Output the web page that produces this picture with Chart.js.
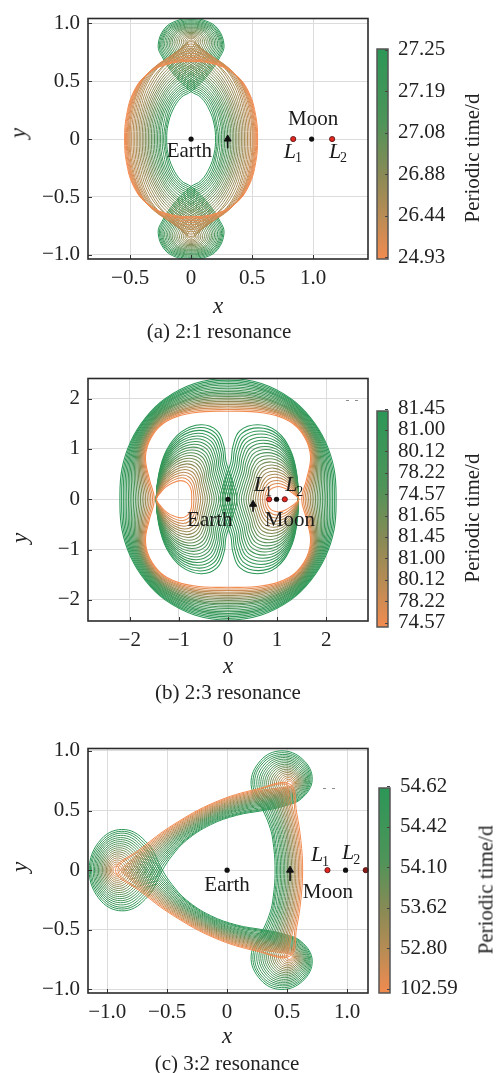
<!DOCTYPE html>
<html lang="en">
<head>
<meta charset="utf-8">
<title>Resonant orbit families in the Earth–Moon system</title>
<script src="https://cdn.jsdelivr.net/npm/chart.js@4.4.1/dist/chart.umd.min.js"></script>
<style>
  html, body { margin: 0; padding: 0; background: #fff; }
  body { position: relative; width: 496px; height: 1073px; overflow: hidden;
         font-family: "Liberation Serif", "Times New Roman", serif; color: #222; }
  canvas { position: absolute; left: 0; }
  .lbl { position: absolute; transform: translate(-50%, -50%); white-space: nowrap; font-size: 21px; line-height: 1; }
  .ax { font-style: italic; font-size: 23px; }
  .rot { transform: translate(-50%, -50%) rotate(-90deg); }
</style>
</head>
<body>
<canvas id="chartA" width="496" height="300" style="top:0px;width:496px;height:300px"></canvas>
<canvas id="chartB" width="496" height="301" style="top:360px;width:496px;height:301px"></canvas>
<canvas id="chartC" width="496" height="303" style="top:730px;width:496px;height:303px"></canvas>

<div class="lbl ax" style="left:218px;top:305px">x</div>
<div class="lbl ax rot" style="left:18px;top:133px">y</div>
<div class="lbl" style="left:219px;top:331px">(a) 2:1 resonance</div>
<div class="lbl rot" style="left:472px;top:158px">Periodic time/d</div>

<div class="lbl ax" style="left:228px;top:665px">x</div>
<div class="lbl ax rot" style="left:19px;top:538px">y</div>
<div class="lbl" style="left:228px;top:692px">(b) 2:3 resonance</div>
<div class="lbl rot" style="left:472px;top:518px">Periodic time/d</div>

<div class="lbl ax" style="left:227px;top:1035px">x</div>
<div class="lbl ax rot" style="left:19px;top:867px">y</div>
<div class="lbl" style="left:227px;top:1063px">(c) 3:2 resonance</div>
<div class="lbl rot" style="left:486px;top:890px">Periodic time/d</div>

<script>
// ---------- axis ticks ----------
const xTicksA = [-0.5, 0, 0.5, 1.0];
const yTicksA = [-1.0, -0.5, 0, 0.5, 1.0];
const xTicksB = [-2, -1, 0, 1, 2];
const yTicksB = [-2, -1, 0, 1, 2];
const xTicksC = [-1.0, -0.5, 0, 0.5, 1.0];
const yTicksC = [-1.0, -0.5, 0, 0.5, 1.0];

// ---------- colour-bar tick labels (periodic time, days) ----------
const periodTicksA = ['27.25', '27.19', '27.08', '26.88', '26.44', '24.93'];
const periodTicksB = ['81.45', '81.00', '80.12', '78.22', '74.57', '81.65', '81.45', '81.00', '80.12', '78.22', '74.57'];
const periodTicksC = ['54.62', '54.42', '54.10', '53.62', '52.80', '102.59'];

// ---------- primaries and libration points (rotating frame, x on the Earth–Moon line) ----------
const primariesX = [0, 0.988];     // Earth, Moon
const librationX = [0.837, 1.156]; // L1, L2

// direction arrows: [x tail, y tail, x head, y head]
const arrowA = [0.30, -0.08, 0.30, 0.0];
const arrowB = [0.51, -0.25, 0.51, -0.10];
const arrowC = [0.525, -0.09, 0.525, 0.0];

// ---------- (a) 2:1 family: first-quadrant arc of each orbit, [x0,y0, x1,y1, ...],
// from the x-axis crossing up to the top; long-period (looped) orbits first
const orbitsA = [
  [0.20,0, 0.19,0.12, 0.15,0.25, 0.08,0.36, 0,0.41, -0.135,0.55, -0.238,0.71, -0.27,0.81, -0.22,0.95, -0.12,1.02, 0,1.04],
  [0.2125,0, 0.20,0.125, 0.16,0.265, 0.085,0.375, 0,0.4275, -0.13,0.5625, -0.229,0.715, -0.26,0.8125, -0.2125,0.945, -0.1165,1.01, 0,1.03],
  [0.225,0, 0.21,0.13, 0.17,0.28, 0.09,0.39, 0,0.445, -0.125,0.575, -0.22,0.72, -0.25,0.815, -0.205,0.94, -0.113,1.0, 0,1.02],
  [0.2375,0, 0.225,0.135, 0.18,0.29, 0.095,0.405, 0,0.4625, -0.12,0.5875, -0.21,0.7275, -0.24,0.8175, -0.1975,0.935, -0.1065,0.9925, 0,1.01],
  [0.25,0, 0.24,0.14, 0.19,0.30, 0.10,0.42, 0,0.48, -0.115,0.60, -0.20,0.735, -0.23,0.82, -0.19,0.93, -0.10,0.985, 0,1.00],
  [0.2625,0, 0.25,0.15, 0.20,0.31, 0.105,0.435, 0,0.50, -0.1075,0.615, -0.19,0.7425, -0.2175,0.8225, -0.18,0.925, -0.095,0.9775, 0,0.9925],
  [0.275,0, 0.26,0.16, 0.21,0.32, 0.11,0.45, 0,0.52, -0.10,0.63, -0.18,0.75, -0.205,0.825, -0.17,0.92, -0.09,0.97, 0,0.985],
  [0.2875,0, 0.2725,0.165, 0.2175,0.335, 0.115,0.47, 0,0.54, -0.095,0.6425, -0.169,0.755, -0.1925,0.8275, -0.159,0.915, -0.085,0.9625, 0,0.975],
  [0.30,0, 0.285,0.17, 0.225,0.35, 0.12,0.49, 0,0.56, -0.09,0.655, -0.158,0.76, -0.18,0.83, -0.148,0.91, -0.08,0.955, 0,0.965],
  [0.3125,0, 0.2975,0.175, 0.235,0.36, 0.125,0.505, 0,0.58, -0.085,0.6675, -0.1465,0.7675, -0.1675,0.8325, -0.1365,0.9075, -0.075,0.9475, 0,0.9575],
  [0.325,0, 0.31,0.18, 0.245,0.37, 0.13,0.52, 0,0.60, -0.08,0.68, -0.135,0.775, -0.155,0.835, -0.125,0.905, -0.07,0.94, 0,0.95],
  [0.3375,0, 0.3215,0.185, 0.254,0.385, 0.135,0.5375, 0,0.62, -0.0715,0.695, -0.1225,0.7825, -0.14,0.8375, -0.1125,0.90, -0.063,0.931, 0,0.94],
  [0.35,0, 0.333,0.19, 0.263,0.40, 0.14,0.555, 0,0.64, -0.063,0.71, -0.11,0.79, -0.125,0.84, -0.10,0.895, -0.056,0.922, 0,0.93],
  [0.3625,0, 0.3445,0.1975, 0.2715,0.4125, 0.145,0.575, 0,0.6625, -0.0555,0.725, -0.097,0.7975, -0.11,0.8425, -0.089,0.8895, -0.0495,0.9135, 0,0.92],
  [0.375,0, 0.356,0.205, 0.28,0.425, 0.15,0.595, 0,0.685, -0.048,0.74, -0.084,0.805, -0.095,0.845, -0.078,0.884, -0.043,0.905, 0,0.91],
  [0.3875,0, 0.368,0.2125, 0.29,0.4375, 0.155,0.615, 0,0.7075, -0.0405,0.755, -0.0705,0.8105, -0.08,0.845, -0.0655,0.878, -0.036,0.8955, 0,0.90],
  [0.40,0, 0.38,0.22, 0.30,0.45, 0.16,0.635, 0,0.73, -0.033,0.77, -0.057,0.816, -0.065,0.845, -0.053,0.872, -0.029,0.886, 0,0.89],
  [0.4125,0, 0.392,0.227, 0.31,0.467, 0.165,0.6575, 0,0.755, -0.0255,0.7865, -0.044,0.8225, -0.05,0.845, -0.041,0.866, -0.0225,0.877, 0,0.88],
  [0.425,0, 0.404,0.234, 0.32,0.484, 0.17,0.68, 0,0.78, -0.018,0.803, -0.031,0.829, -0.035,0.845, -0.029,0.86, -0.016,0.868, 0,0.87],
  [0.4375,0, 0.417,0.237, 0.34,0.482, 0.20,0.665, 0.07,0.79, 0,0.855],
  [0.45,0, 0.43,0.24, 0.36,0.48, 0.24,0.65, 0.11,0.76, 0,0.84],
  [0.4625,0, 0.4425,0.24, 0.375,0.475, 0.255,0.64, 0.12,0.75, 0,0.82],
  [0.475,0, 0.455,0.24, 0.39,0.47, 0.27,0.63, 0.13,0.74, 0,0.80],
  [0.4875,0, 0.4675,0.235, 0.405,0.46, 0.29,0.62, 0.145,0.725, 0,0.78],
  [0.50,0, 0.48,0.23, 0.42,0.45, 0.31,0.61, 0.16,0.71, 0,0.76],
  [0.5075,0, 0.49,0.225, 0.43,0.44, 0.325,0.595, 0.17,0.695, 0,0.74],
  [0.515,0, 0.50,0.22, 0.44,0.43, 0.34,0.58, 0.18,0.68, 0,0.72],
  [0.5225,0, 0.5075,0.215, 0.45,0.42, 0.35,0.57, 0.19,0.6675, 0,0.705],
  [0.53,0, 0.515,0.21, 0.46,0.41, 0.36,0.56, 0.20,0.655, 0,0.69],
  [0.5375,0, 0.5225,0.205, 0.4675,0.405, 0.365,0.555, 0.205,0.6475, 0,0.68],
  [0.545,0, 0.53,0.20, 0.475,0.40, 0.37,0.55, 0.21,0.64, 0,0.67]
];

// ---------- (b) 2:3 family: outer ring (first quadrant) ----------
const ringsB = [
  [2.20,0, 2.16,0.60, 1.98,1.15, 1.68,1.62, 1.28,2.00, 0.68,2.30, 0,2.40],
  [2.165,0, 2.132,0.59, 1.965,1.135, 1.6735,1.6015, 1.2785,1.9775, 0.681,2.271, 0,2.3675],
  [2.13,0, 2.104,0.58, 1.95,1.12, 1.667,1.583, 1.277,1.955, 0.682,2.242, 0,2.335],
  [2.095,0, 2.076,0.57, 1.935,1.105, 1.6605,1.5645, 1.2755,1.9325, 0.683,2.213, 0,2.3025],
  [2.06,0, 2.048,0.56, 1.92,1.09, 1.654,1.546, 1.274,1.91, 0.684,2.184, 0,2.27],
  [2.025,0, 2.02,0.55, 1.905,1.075, 1.6475,1.5275, 1.2725,1.8875, 0.685,2.155, 0,2.2375],
  [1.99,0, 1.992,0.54, 1.89,1.06, 1.641,1.509, 1.271,1.865, 0.686,2.126, 0,2.205],
  [1.955,0, 1.964,0.53, 1.875,1.045, 1.6345,1.4905, 1.2695,1.8425, 0.687,2.097, 0,2.1725],
  [1.92,0, 1.936,0.52, 1.86,1.03, 1.628,1.472, 1.268,1.82, 0.688,2.068, 0,2.14],
  [1.885,0, 1.908,0.51, 1.845,1.015, 1.6215,1.4535, 1.2665,1.7975, 0.689,2.039, 0,2.1075],
  [1.85,0, 1.88,0.50, 1.83,1.00, 1.615,1.435, 1.265,1.775, 0.69,2.01, 0,2.075],
  [1.815,0, 1.852,0.49, 1.815,0.985, 1.6085,1.4165, 1.2635,1.7525, 0.691,1.981, 0,2.0425],
  [1.78,0, 1.824,0.48, 1.80,0.97, 1.602,1.398, 1.262,1.73, 0.692,1.952, 0,2.01],
  [1.745,0, 1.796,0.47, 1.785,0.955, 1.5955,1.3795, 1.2605,1.7075, 0.693,1.923, 0,1.9775],
  [1.71,0, 1.768,0.46, 1.77,0.94, 1.589,1.361, 1.259,1.685, 0.694,1.894, 0,1.945],
  [1.675,0, 1.74,0.45, 1.755,0.925, 1.5825,1.3425, 1.2575,1.6625, 0.695,1.865, 0,1.9125],
  [1.64,0, 1.712,0.44, 1.74,0.91, 1.576,1.324, 1.256,1.64, 0.696,1.836, 0,1.88],
  [1.605,0, 1.684,0.43, 1.725,0.895, 1.5695,1.3055, 1.2545,1.6175, 0.697,1.807, 0,1.8475],
  [1.57,0, 1.656,0.42, 1.71,0.88, 1.563,1.287, 1.253,1.595, 0.698,1.778, 0,1.815],
  [1.535,0, 1.628,0.41, 1.695,0.865, 1.5565,1.2685, 1.2515,1.5725, 0.699,1.749, 0,1.7825],
  [1.50,0, 1.60,0.40, 1.68,0.85, 1.55,1.25, 1.25,1.55, 0.70,1.72, 0,1.75]
];
// Earth-side loops (upper half, from the outer crossing over the top to the inner edge)
const loopsEarthB = [
  [-1.46,0, -1.41,0.50, -1.25,0.98, -0.95,1.34, -0.55,1.48, -0.22,1.36, -0.08,1.05, -0.04,0.75, 0.08,0.38, 0.18,0],
  [-1.46,0, -1.4085,0.481, -1.251,0.943, -0.9585,1.2895, -0.5705,1.4245, -0.251,1.3085, -0.1145,1.0095, -0.075,0.7205, 0.039,0.365, 0.134,0],
  [-1.46,0, -1.407,0.462, -1.252,0.906, -0.967,1.239, -0.591,1.369, -0.282,1.257, -0.149,0.969, -0.11,0.691, -0.002,0.35, 0.088,0],
  [-1.46,0, -1.4055,0.443, -1.253,0.869, -0.9755,1.1885, -0.6115,1.3135, -0.313,1.2055, -0.1835,0.9285, -0.1455,0.6615, -0.043,0.335, 0.042,0],
  [-1.46,0, -1.404,0.424, -1.254,0.832, -0.984,1.138, -0.632,1.258, -0.344,1.154, -0.218,0.888, -0.181,0.632, -0.084,0.32, -0.004,0],
  [-1.46,0, -1.4025,0.405, -1.255,0.795, -0.9925,1.0875, -0.6525,1.2025, -0.375,1.1025, -0.2525,0.8475, -0.2165,0.6025, -0.125,0.305, -0.05,0],
  [-1.46,0, -1.401,0.386, -1.256,0.758, -1.001,1.037, -0.673,1.147, -0.406,1.051, -0.287,0.807, -0.252,0.573, -0.166,0.29, -0.096,0],
  [-1.46,0, -1.3995,0.367, -1.257,0.721, -1.0095,0.9865, -0.6935,1.0915, -0.437,0.9995, -0.3215,0.7665, -0.287,0.5435, -0.207,0.275, -0.142,0],
  [-1.46,0, -1.398,0.348, -1.258,0.684, -1.018,0.936, -0.714,1.036, -0.468,0.948, -0.356,0.726, -0.322,0.514, -0.248,0.26, -0.188,0],
  [-1.46,0, -1.3965,0.329, -1.259,0.647, -1.0265,0.8855, -0.7345,0.9805, -0.499,0.8965, -0.3905,0.6855, -0.3575,0.4845, -0.289,0.245, -0.234,0],
  [-1.46,0, -1.395,0.31, -1.26,0.61, -1.035,0.835, -0.755,0.925, -0.53,0.845, -0.425,0.645, -0.393,0.455, -0.33,0.23, -0.28,0],
  [-1.46,0, -1.3935,0.291, -1.261,0.573, -1.0435,0.7845, -0.7755,0.8695, -0.561,0.7935, -0.4595,0.6045, -0.428,0.4255, -0.371,0.215, -0.326,0],
  [-1.46,0, -1.392,0.272, -1.262,0.536, -1.052,0.734, -0.796,0.814, -0.592,0.742, -0.494,0.564, -0.463,0.396, -0.412,0.20, -0.372,0],
  [-1.46,0, -1.3905,0.253, -1.263,0.499, -1.0605,0.6835, -0.8165,0.7585, -0.623,0.6905, -0.5285,0.5235, -0.4985,0.3665, -0.453,0.185, -0.418,0],
  [-1.46,0, -1.389,0.234, -1.264,0.462, -1.069,0.633, -0.837,0.703, -0.654,0.639, -0.563,0.483, -0.534,0.337, -0.494,0.17, -0.464,0],
  [-1.46,0, -1.3875,0.215, -1.265,0.425, -1.0775,0.5825, -0.8575,0.6475, -0.685,0.5875, -0.5975,0.4425, -0.569,0.3075, -0.535,0.155, -0.51,0],
  [-1.46,0, -1.386,0.196, -1.266,0.388, -1.086,0.532, -0.878,0.592, -0.716,0.536, -0.632,0.402, -0.604,0.278, -0.576,0.14, -0.556,0],
  [-1.46,0, -1.3845,0.177, -1.267,0.351, -1.0945,0.4815, -0.8985,0.5365, -0.747,0.4845, -0.6665,0.3615, -0.6395,0.2485, -0.617,0.125, -0.602,0],
  [-1.46,0, -1.383,0.158, -1.268,0.314, -1.103,0.431, -0.919,0.481, -0.778,0.433, -0.701,0.321, -0.675,0.219, -0.658,0.11, -0.648,0],
  [-1.46,0, -1.3815,0.139, -1.269,0.277, -1.1115,0.3805, -0.9395,0.4255, -0.809,0.3815, -0.7355,0.2805, -0.71,0.1895, -0.699,0.095, -0.694,0],
  [-1.46,0, -1.38,0.12, -1.27,0.24, -1.12,0.33, -0.96,0.37, -0.84,0.33, -0.77,0.24, -0.745,0.16, -0.74,0.08, -0.74,0]
];
// Moon-side loops (upper half)
const loopsMoonB = [
  [-0.16,0, -0.06,0.38, 0.06,0.75, 0.10,1.05, 0.24,1.36, 0.60,1.48, 0.98,1.36, 1.27,0.98, 1.40,0.50, 1.43,0],
  [-0.112,0, -0.017,0.3645, 0.098,0.7195, 0.1385,1.0075, 0.2755,1.304, 0.623,1.4185, 0.99,1.3025, 1.271,0.938, 1.399,0.4785, 1.4305,0],
  [-0.064,0, 0.026,0.349, 0.136,0.689, 0.177,0.965, 0.311,1.248, 0.646,1.357, 1.00,1.245, 1.272,0.896, 1.398,0.457, 1.431,0],
  [-0.016,0, 0.069,0.3335, 0.174,0.6585, 0.2155,0.9225, 0.3465,1.192, 0.669,1.2955, 1.01,1.1875, 1.273,0.854, 1.397,0.4355, 1.4315,0],
  [0.032,0, 0.112,0.318, 0.212,0.628, 0.254,0.88, 0.382,1.136, 0.692,1.234, 1.02,1.13, 1.274,0.812, 1.396,0.414, 1.432,0],
  [0.08,0, 0.155,0.3025, 0.25,0.5975, 0.2925,0.8375, 0.4175,1.08, 0.715,1.1725, 1.03,1.0725, 1.275,0.77, 1.395,0.3925, 1.4325,0],
  [0.128,0, 0.198,0.287, 0.288,0.567, 0.331,0.795, 0.453,1.024, 0.738,1.111, 1.04,1.015, 1.276,0.728, 1.394,0.371, 1.433,0],
  [0.176,0, 0.241,0.2715, 0.326,0.5365, 0.3695,0.7525, 0.4885,0.968, 0.761,1.0495, 1.05,0.9575, 1.277,0.686, 1.393,0.3495, 1.4335,0],
  [0.224,0, 0.284,0.256, 0.364,0.506, 0.408,0.71, 0.524,0.912, 0.784,0.988, 1.06,0.90, 1.278,0.644, 1.392,0.328, 1.434,0],
  [0.272,0, 0.327,0.2405, 0.402,0.4755, 0.4465,0.6675, 0.5595,0.856, 0.807,0.9265, 1.07,0.8425, 1.279,0.602, 1.391,0.3065, 1.4345,0],
  [0.32,0, 0.37,0.225, 0.44,0.445, 0.485,0.625, 0.595,0.80, 0.83,0.865, 1.08,0.785, 1.28,0.56, 1.39,0.285, 1.435,0],
  [0.368,0, 0.413,0.2095, 0.478,0.4145, 0.5235,0.5825, 0.6305,0.744, 0.853,0.8035, 1.09,0.7275, 1.281,0.518, 1.389,0.2635, 1.4355,0],
  [0.416,0, 0.456,0.194, 0.516,0.384, 0.562,0.54, 0.666,0.688, 0.876,0.742, 1.10,0.67, 1.282,0.476, 1.388,0.242, 1.436,0],
  [0.464,0, 0.499,0.1785, 0.554,0.3535, 0.6005,0.4975, 0.7015,0.632, 0.899,0.6805, 1.11,0.6125, 1.283,0.434, 1.387,0.2205, 1.4365,0],
  [0.512,0, 0.542,0.163, 0.592,0.323, 0.639,0.455, 0.737,0.576, 0.922,0.619, 1.12,0.555, 1.284,0.392, 1.386,0.199, 1.437,0],
  [0.56,0, 0.585,0.1475, 0.63,0.2925, 0.6775,0.4125, 0.7725,0.52, 0.945,0.5575, 1.13,0.4975, 1.285,0.35, 1.385,0.1775, 1.4375,0],
  [0.608,0, 0.628,0.132, 0.668,0.262, 0.716,0.37, 0.808,0.464, 0.968,0.496, 1.14,0.44, 1.286,0.308, 1.384,0.156, 1.438,0],
  [0.656,0, 0.671,0.1165, 0.706,0.2315, 0.7545,0.3275, 0.8435,0.408, 0.991,0.4345, 1.15,0.3825, 1.287,0.266, 1.383,0.1345, 1.4385,0],
  [0.704,0, 0.714,0.101, 0.744,0.201, 0.793,0.285, 0.879,0.352, 1.014,0.373, 1.16,0.325, 1.288,0.224, 1.382,0.113, 1.439,0],
  [0.752,0, 0.757,0.0855, 0.782,0.1705, 0.8315,0.2425, 0.9145,0.296, 1.037,0.3115, 1.17,0.2675, 1.289,0.182, 1.381,0.0915, 1.4395,0],
  [0.80,0, 0.80,0.07, 0.82,0.14, 0.87,0.20, 0.95,0.24, 1.06,0.25, 1.18,0.21, 1.29,0.14, 1.38,0.07, 1.44,0]
];

// ---------- (c) 3:2 family: half orbit from the right x-axis crossing to the far-left vertex ----------
const orbitsC = [
  [0.40,0, 0.38,0.26, 0.35,0.38, 0.30,0.50, 0.20,0.72, 0.28,0.92, 0.45,1.00, 0.63,0.93, 0.71,0.76, 0.62,0.60, 0.45,0.53, 0.30,0.50, 0.08,0.46, -0.14,0.38, -0.34,0.25, -0.46,0.12, -0.54,0, -0.66,-0.22, -0.85,-0.34, -1.05,-0.26, -1.15,0],
  [0.4115,0, 0.39,0.26, 0.3615,0.385, 0.31,0.51, 0.215,0.72, 0.29,0.91, 0.455,0.985, 0.625,0.92, 0.70,0.76, 0.615,0.605, 0.455,0.54, 0.31,0.51, 0.09,0.47, -0.138,0.39, -0.345,0.255, -0.473,0.123, -0.56,0, -0.675,-0.21, -0.855,-0.325, -1.045,-0.245, -1.14,0],
  [0.423,0, 0.40,0.26, 0.373,0.39, 0.32,0.52, 0.23,0.72, 0.30,0.90, 0.46,0.97, 0.62,0.91, 0.69,0.76, 0.61,0.61, 0.46,0.55, 0.32,0.52, 0.10,0.48, -0.136,0.40, -0.35,0.26, -0.486,0.126, -0.58,0, -0.69,-0.20, -0.86,-0.31, -1.04,-0.23, -1.13,0],
  [0.4345,0, 0.4135,0.26, 0.3845,0.395, 0.3325,0.532, 0.2475,0.72, 0.3145,0.89, 0.4625,0.957, 0.6145,0.899, 0.6815,0.756, 0.6055,0.617, 0.4625,0.559, 0.3325,0.532, 0.107,0.492, -0.134,0.409, -0.356,0.268, -0.499,0.129, -0.598,0, -0.702,-0.188, -0.863,-0.291, -1.033,-0.219, -1.117,0],
  [0.446,0, 0.427,0.26, 0.396,0.40, 0.345,0.544, 0.265,0.72, 0.329,0.88, 0.465,0.944, 0.609,0.888, 0.673,0.752, 0.601,0.624, 0.465,0.568, 0.345,0.544, 0.114,0.504, -0.132,0.418, -0.362,0.276, -0.512,0.132, -0.618,0, -0.714,-0.176, -0.866,-0.272, -1.026,-0.208, -1.106,0],
  [0.4575,0, 0.4385,0.2585, 0.4075,0.405, 0.356,0.555, 0.281,0.72, 0.341,0.87, 0.469,0.93, 0.604,0.8775, 0.664,0.75, 0.596,0.63, 0.469,0.5775, 0.356,0.555, 0.1225,0.515, -0.13,0.4275, -0.3675,0.2825, -0.525,0.135, -0.6375,0, -0.7275,-0.165, -0.87,-0.255, -1.02,-0.195, -1.095,0],
  [0.469,0, 0.45,0.257, 0.419,0.41, 0.3675,0.566, 0.2975,0.72, 0.3535,0.86, 0.4725,0.916, 0.5985,0.867, 0.6545,0.748, 0.5915,0.636, 0.4725,0.587, 0.3675,0.566, 0.131,0.526, -0.128,0.437, -0.373,0.289, -0.538,0.138, -0.657,0, -0.741,-0.154, -0.874,-0.238, -1.014,-0.182, -1.084,0],
  [0.4805,0, 0.462,0.2565, 0.4305,0.415, 0.379,0.577, 0.314,0.72, 0.366,0.85, 0.476,0.902, 0.593,0.8565, 0.645,0.746, 0.587,0.642, 0.476,0.5965, 0.379,0.577, 0.1395,0.537, -0.126,0.4465, -0.3785,0.2955, -0.551,0.141, -0.6765,0, -0.7545,-0.143, -0.878,-0.221, -1.008,-0.169, -1.073,0],
  [0.492,0, 0.474,0.256, 0.442,0.42, 0.39,0.588, 0.33,0.72, 0.378,0.84, 0.48,0.888, 0.588,0.846, 0.636,0.744, 0.582,0.648, 0.48,0.606, 0.39,0.588, 0.148,0.548, -0.124,0.456, -0.384,0.302, -0.564,0.144, -0.696,0, -0.768,-0.132, -0.882,-0.204, -1.002,-0.156, -1.062,0],
  [0.5035,0, 0.486,0.2555, 0.4535,0.425, 0.401,0.599, 0.346,0.72, 0.390,0.83, 0.484,0.874, 0.583,0.8355, 0.627,0.742, 0.577,0.654, 0.484,0.6155, 0.401,0.599, 0.1565,0.559, -0.122,0.4655, -0.3895,0.3085, -0.577,0.147, -0.7155,0, -0.7815,-0.121, -0.886,-0.187, -0.996,-0.143, -1.051,0],
  [0.515,0, 0.498,0.255, 0.465,0.43, 0.4125,0.61, 0.3625,0.72, 0.4025,0.82, 0.4875,0.86, 0.5775,0.825, 0.6175,0.74, 0.5725,0.66, 0.4875,0.625, 0.4125,0.61, 0.165,0.57, -0.12,0.475, -0.395,0.315, -0.59,0.15, -0.735,0, -0.795,-0.11, -0.89,-0.17, -0.99,-0.13, -1.04,0],
  [0.5265,0, 0.5095,0.2545, 0.4765,0.435, 0.424,0.621, 0.379,0.72, 0.415,0.81, 0.491,0.846, 0.572,0.8145, 0.608,0.738, 0.568,0.666, 0.491,0.6345, 0.424,0.621, 0.1735,0.581, -0.118,0.4845, -0.4005,0.3215, -0.603,0.153, -0.7545,0, -0.8085,-0.099, -0.894,-0.153, -0.984,-0.117, -1.029,0],
  [0.538,0, 0.521,0.254, 0.488,0.44, 0.435,0.632, 0.395,0.72, 0.427,0.80, 0.495,0.832, 0.567,0.804, 0.599,0.736, 0.563,0.672, 0.495,0.644, 0.435,0.632, 0.182,0.592, -0.116,0.494, -0.406,0.328, -0.616,0.156, -0.774,0, -0.822,-0.088, -0.898,-0.136, -0.978,-0.104, -1.018,0],
  [0.5495,0, 0.533,0.2535, 0.4995,0.445, 0.446,0.643, 0.411,0.72, 0.439,0.79, 0.499,0.818, 0.562,0.7935, 0.590,0.734, 0.558,0.678, 0.499,0.6535, 0.446,0.643, 0.1905,0.603, -0.114,0.5035, -0.4115,0.3345, -0.629,0.159, -0.7935,0, -0.8355,-0.077, -0.902,-0.119, -0.972,-0.091, -1.007,0],
  [0.561,0, 0.545,0.253, 0.511,0.45, 0.4575,0.654, 0.4275,0.72, 0.4515,0.78, 0.5025,0.804, 0.5565,0.783, 0.5805,0.732, 0.5535,0.684, 0.5025,0.663, 0.4575,0.654, 0.199,0.614, -0.112,0.513, -0.417,0.341, -0.642,0.162, -0.813,0, -0.849,-0.066, -0.906,-0.102, -0.966,-0.078, -0.996,0],
  [0.5725,0, 0.5565,0.2525, 0.5225,0.455, 0.469,0.665, 0.444,0.72, 0.464,0.77, 0.506,0.79, 0.551,0.7725, 0.571,0.73, 0.549,0.69, 0.506,0.6725, 0.469,0.665, 0.2075,0.625, -0.11,0.5225, -0.4225,0.3475, -0.655,0.165, -0.8325,0, -0.8625,-0.055, -0.91,-0.085, -0.96,-0.065, -0.985,0],
  [0.584,0, 0.568,0.252, 0.534,0.46, 0.48,0.676, 0.46,0.72, 0.476,0.76, 0.51,0.776, 0.546,0.762, 0.562,0.728, 0.544,0.696, 0.51,0.682, 0.48,0.676, 0.216,0.636, -0.108,0.532, -0.428,0.354, -0.668,0.168, -0.852,0, -0.876,-0.044, -0.914,-0.068, -0.954,-0.052, -0.974,0],
  [0.5955,0, 0.58,0.2515, 0.5455,0.465, 0.491,0.687, 0.476,0.72, 0.488,0.75, 0.514,0.762, 0.541,0.7515, 0.553,0.726, 0.539,0.702, 0.514,0.6915, 0.491,0.687, 0.2245,0.647, -0.106,0.5415, -0.4335,0.3605, -0.681,0.171, -0.8715,0, -0.8895,-0.033, -0.918,-0.051, -0.948,-0.039, -0.963,0],
  [0.607,0, 0.592,0.251, 0.557,0.47, 0.5025,0.698, 0.4925,0.72, 0.5005,0.74, 0.5175,0.748, 0.5355,0.741, 0.5435,0.724, 0.5345,0.708, 0.5175,0.701, 0.5025,0.698, 0.233,0.658, -0.104,0.551, -0.439,0.367, -0.694,0.174, -0.891,0, -0.903,-0.022, -0.922,-0.034, -0.942,-0.026, -0.952,0],
  [0.6185,0, 0.603,0.2505, 0.5685,0.475, 0.514,0.709, 0.2415,0.669, -0.102,0.5605, -0.4445,0.3735, -0.707,0.177, -0.9105,0],
  [0.63,0, 0.615,0.25, 0.58,0.48, 0.525,0.72, 0.25,0.68, -0.10,0.57, -0.45,0.38, -0.72,0.18, -0.93,0]
];

// ---------- colour scale: long period (green) -> short period (orange) ----------
const scaleStops = [
  [0.00, [44, 151, 87]],
  [0.35, [78, 148, 89]],
  [0.60, [138, 138, 85]],
  [0.80, [186, 140, 84]],
  [1.00, [242, 139, 80]]
];
function colourAt(t) {
  for (let i = 1; i < scaleStops.length; i++) {
    const [t1, c1] = scaleStops[i], [t0, c0] = scaleStops[i - 1];
    if (t <= t1) {
      const f = (t - t0) / (t1 - t0);
      return 'rgb(' + c0.map((v, k) => Math.round(v + (c1[k] - v) * f)).join(',') + ')';
    }
  }
  return 'rgb(' + scaleStops[scaleStops.length - 1][1].join(',') + ')';
}

// ---------- geometry helpers: rebuild full closed orbits from their symmetric parts ----------
function pairs(flat) { const out = []; for (let i = 0; i < flat.length; i += 2) out.push([flat[i], flat[i + 1]]); return out; }
function mirrorY(half) { return half.concat(half.slice().reverse().slice(1).map(([x, y]) => [x, -y])); }
function mirrorXY(quarter) { return mirrorY(quarter.concat(quarter.slice().reverse().slice(1).map(([x, y]) => [-x, y]))); }

function closedCurve(pts, colour, width) {
  const n = pts.length;
  const ext = [pts[n - 2], ...pts, pts[1]];   // wrap one point each way so the spline closes smoothly
  const last = ext.length - 2;
  return {
    data: ext.map(([x, y]) => ({ x, y })),
    borderColor: colour, borderWidth: width, pointRadius: 0, pointHoverRadius: 0,
    tension: 0.4, fill: false,
    segment: { borderColor: c => (c.p0DataIndex === 0 || c.p0DataIndex === last) ? 'rgba(0,0,0,0)' : undefined }
  };
}

function markerSets(arrow, l2Colour) {
  return [
    { data: [{ x: arrow[2], y: arrow[3] }], showLine: false, pointStyle: 'triangle', pointRadius: 4,
      pointBackgroundColor: '#111', pointBorderColor: '#111', pointBorderWidth: 1, clip: false },
    { data: [{ x: arrow[0], y: arrow[1] }, { x: arrow[2], y: arrow[3] }], borderColor: '#111', borderWidth: 1.6,
      pointRadius: 0, clip: false },
    { data: librationX.map(x => ({ x, y: 0 })), showLine: false, pointRadius: 2.6,
      pointBackgroundColor: ['#e3261f', l2Colour], pointBorderColor: '#4a0c0c', pointBorderWidth: 0.8, clip: false },
    { data: primariesX.map(x => ({ x, y: 0 })), showLine: false, pointRadius: 2.6,
      pointBackgroundColor: '#111', pointBorderColor: '#111', pointBorderWidth: 0, clip: false }
  ];
}

// short-period (orange) orbits are stacked above the long-period (green) ones
function familySets(groups) {
  const sets = [];
  for (let i = groups.length - 1; i >= 0; i--) sets.push(...groups[i]);
  return sets;
}
// position of orbit i along the colour scale, with a per-panel bias
function shade(i, n, bias) { return colourAt(Math.pow(i / (n - 1), bias)); }

const setsA = markerSets(arrowA, '#e3261f').concat(
  familySets(orbitsA.map((q, i) => [closedCurve(mirrorXY(pairs(q)), shade(i, orbitsA.length, 0.75), 1.0)]))
);
const setsB = markerSets(arrowB, '#e3261f').concat(
  familySets(ringsB.map((q, i) => {
    const c = shade(i, ringsB.length, 1.35);
    return [
      closedCurve(mirrorXY(pairs(q)), c, 1.1),
      closedCurve(mirrorY(pairs(loopsEarthB[i])), c, 1.05),
      closedCurve(mirrorY(pairs(loopsMoonB[i])), c, 1.05)
    ];
  }))
);
const setsC = markerSets(arrowC, '#8a1d17').concat(
  familySets(orbitsC.map((h, i) => [closedCurve(mirrorY(pairs(h)), shade(i, orbitsC.length, 1.0), 1.0)]))
);

// ---------- decorations: frame, inner ticks, body labels, colour bar ----------
function fmt(v, dp) { return v === 0 ? '0' : (v < 0 ? '\u2212' : '') + Math.abs(v).toFixed(dp); }

const decor = {
  id: 'decor',
  afterDatasetsDraw(chart, args, o) {
    const { ctx, chartArea: a, scales: { x, y } } = chart;
    ctx.save();
    // inward tick marks
    ctx.strokeStyle = '#333'; ctx.lineWidth = 1;
    ctx.beginPath();
    o.xt.forEach(v => { const p = Math.round(x.getPixelForValue(v)) + 0.5; ctx.moveTo(p, a.bottom); ctx.lineTo(p, a.bottom - 4); });
    o.yt.forEach(v => { const p = Math.round(y.getPixelForValue(v)) + 0.5; ctx.moveTo(a.left, p); ctx.lineTo(a.left + 4, p); });
    ctx.stroke();
    // frame
    ctx.strokeStyle = '#2a2a2a'; ctx.lineWidth = 1.6;
    ctx.strokeRect(a.left, a.top, a.right - a.left, a.bottom - a.top);

    // body names
    ctx.fillStyle = '#1b1b1b'; ctx.textAlign = 'center'; ctx.textBaseline = 'middle';
    ctx.font = '21px "Liberation Serif"';
    o.names.forEach(([t, vx, vy]) => ctx.fillText(t, x.getPixelForValue(vx), y.getPixelForValue(vy)));
    o.lpts.forEach(([sub, vx, vy]) => {
      const px = x.getPixelForValue(vx), py = y.getPixelForValue(vy);
      ctx.textAlign = 'center'; ctx.font = 'italic 22px "Liberation Serif"'; ctx.fillText('L', px, py);
      ctx.textAlign = 'left'; ctx.font = '14px "Liberation Serif"'; ctx.fillText(sub, px + 5, py + 7);
    });

    // stray legend dashes
    ctx.strokeStyle = '#8a8a8a'; ctx.lineWidth = 1;
    (o.dashes || []).forEach(([dx, dy]) => { ctx.beginPath(); ctx.moveTo(dx, dy + 0.5); ctx.lineTo(dx + 3, dy + 0.5); ctx.stroke(); });

    // colour bar
    const c = o.cbar;
    const g = ctx.createLinearGradient(0, c.top, 0, c.bottom);
    scaleStops.forEach(([t, col]) => g.addColorStop(t, 'rgb(' + col.join(',') + ')'));
    ctx.fillStyle = g; ctx.fillRect(c.x, c.top, c.w, c.bottom - c.top);
    ctx.strokeStyle = '#555'; ctx.lineWidth = 1.5; ctx.strokeRect(c.x, c.top, c.w, c.bottom - c.top);
    ctx.fillStyle = '#222'; ctx.font = '21px "Liberation Serif"'; ctx.textAlign = 'left'; ctx.textBaseline = 'middle';
    ctx.strokeStyle = '#444'; ctx.lineWidth = 1;
    const n = c.labels.length;
    c.labels.forEach((s, i) => {
      const ly = c.ly0 + i * (c.ly1 - c.ly0) / (n - 1);
      ctx.fillText(s, c.lx, ly);
      ctx.beginPath(); ctx.moveTo(c.x + c.w, Math.round(ly) + 0.5); ctx.lineTo(c.x + c.w - 3, Math.round(ly) + 0.5); ctx.stroke();
    });
    ctx.restore();
  }
};

function makeChart(id, P) {
  const tickFont = { family: '"Liberation Serif"', size: 21, lineHeight: 1 };
  return new Chart(document.getElementById(id), {
    type: 'line',
    data: { datasets: P.sets },
    options: {
      responsive: false, animation: false, devicePixelRatio: 1,
      events: [],
      layout: { padding: { left: 0, right: 128, top: P.padTop, bottom: 0 } },
      plugins: { legend: { display: false }, tooltip: { enabled: false }, decor: P.decor },
      scales: {
        x: {
          type: 'linear', min: P.xr[0], max: P.xr[1],
          afterBuildTicks: s => { s.ticks = P.xt.map(v => ({ value: v })); },
          afterFit: s => { s.height = P.xH; },
          grid: { color: '#dcdcdc', lineWidth: 1, drawTicks: false },
          border: { display: false },
          ticks: { padding: 9, color: '#222', font: tickFont, maxRotation: 0, autoSkip: false, callback: v => fmt(v, P.dp) }
        },
        y: {
          type: 'linear', min: P.yr[0], max: P.yr[1],
          afterBuildTicks: s => { s.ticks = P.yt.map(v => ({ value: v })); },
          afterFit: s => { s.width = 88; },
          grid: { color: '#dcdcdc', lineWidth: 1, drawTicks: false },
          border: { display: false },
          ticks: { padding: 8, color: '#222', font: tickFont, autoSkip: false, callback: v => fmt(v, P.dp) }
        }
      }
    },
    plugins: [decor]
  });
}

makeChart('chartA', {
  sets: setsA, padTop: 12, xH: 41, xr: [-0.845, 1.45], yr: [-1.035, 1.04], xt: xTicksA, yt: yTicksA, dp: 1,
  decor: {
    xt: xTicksA, yt: yTicksA,
    names: [['Earth', -0.014, -0.105], ['Moon', 1.0, 0.172]],
    lpts: [['1', 0.81, -0.11], ['2', 1.18, -0.11]],
    cbar: { x: 377, w: 11, top: 49, bottom: 259, lx: 398, ly0: 49.5, ly1: 257, labels: periodTicksA }
  }
});
makeChart('chartB', {
  sets: setsB, padTop: 16, xH: 40, xr: [-2.85, 2.85], yr: [-2.42, 2.40], xt: xTicksB, yt: yTicksB, dp: 0,
  decor: {
    xt: xTicksB, yt: yTicksB,
    names: [['Earth', -0.37, -0.43], ['Moon', 1.26, -0.43]],
    lpts: [['1', 0.65, 0.27], ['2', 1.29, 0.27]],
    dashes: [[346, 40], [355, 40]],
    cbar: { x: 377, w: 11, top: 51, bottom: 267, lx: 398, ly0: 48.5, ly1: 262.5, labels: periodTicksB }
  }
});
makeChart('chartC', {
  sets: setsC, padTop: 14, xH: 40, xr: [-1.16, 1.175], yr: [-1.03, 1.02], xt: xTicksC, yt: yTicksC, dp: 1,
  decor: {
    xt: xTicksC, yt: yTicksC,
    names: [['Earth', 0, -0.125], ['Moon', 0.84, -0.19]],
    lpts: [['1', 0.75, 0.126], ['2', 1.01, 0.14]],
    dashes: [[323, 58], [332, 58]],
    cbar: { x: 379, w: 11, top: 58, bottom: 263, lx: 400, ly0: 56, ly1: 258.5, labels: periodTicksC }
  }
});
</script>
</body>
</html>
